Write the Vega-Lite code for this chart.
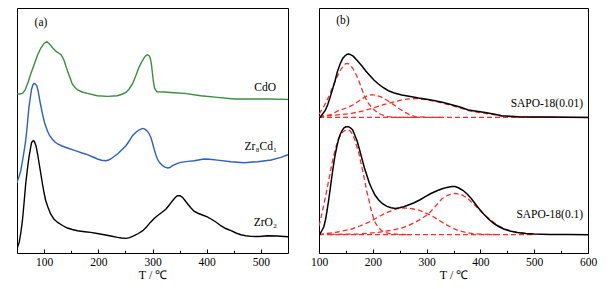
{
  "$schema": "https://vega.github.io/schema/vega-lite/v6.json",
  "padding": {"left": 16, "top": 7, "right": 0, "bottom": 0},
  "background": "white",
  "spacing": 31,
  "bounds": "flush",
  "config": {
    "view": {"stroke": "black", "strokeWidth": 1},
    "font": "Liberation Serif",
    "axis": {
      "labelFont": "Liberation Serif", "labelFontSize": 11.5, "labelColor": "black",
      "titleFont": "Liberation Serif", "titleFontSize": 12, "titleFontWeight": "normal", "titleColor": "black",
      "tickColor": "black", "tickWidth": 1, "domain": false, "grid": false,
      "tickSize": -4, "labelPadding": 7, "titlePadding": 2, "labelFlush": false
    }
  },
  "datasets": {
    "a_curves": [
      {"s":"CdO","T":50,"v":159},{"s":"CdO","T":55,"v":159},{"s":"CdO","T":60,"v":159.6},{"s":"CdO","T":65,"v":163},{"s":"CdO","T":70,"v":170},{"s":"CdO","T":76,"v":180},{"s":"CdO","T":82,"v":189},{"s":"CdO","T":88,"v":198},{"s":"CdO","T":94,"v":205},{"s":"CdO","T":100,"v":209.6},{"s":"CdO","T":105,"v":211.3},{"s":"CdO","T":110,"v":209},{"s":"CdO","T":116,"v":205},{"s":"CdO","T":122,"v":201.6},{"s":"CdO","T":128,"v":199.5},{"s":"CdO","T":131,"v":198.3},{"s":"CdO","T":134,"v":196},{"s":"CdO","T":137,"v":192.3},{"s":"CdO","T":143,"v":182.3},{"s":"CdO","T":148,"v":175},{"s":"CdO","T":152,"v":169},{"s":"CdO","T":157,"v":165.5},{"s":"CdO","T":162,"v":163},{"s":"CdO","T":170,"v":161},{"s":"CdO","T":180,"v":159.6},{"s":"CdO","T":198,"v":157.3},{"s":"CdO","T":217,"v":156.6},{"s":"CdO","T":235,"v":157.3},{"s":"CdO","T":245,"v":159},{"s":"CdO","T":251,"v":160.6},{"s":"CdO","T":257,"v":164},{"s":"CdO","T":263,"v":169},{"s":"CdO","T":269,"v":177},{"s":"CdO","T":275,"v":185.6},{"s":"CdO","T":280,"v":191},{"s":"CdO","T":285,"v":195.6},{"s":"CdO","T":288,"v":197.5},{"s":"CdO","T":291,"v":198.3},{"s":"CdO","T":294,"v":197},{"s":"CdO","T":296,"v":194.5},{"s":"CdO","T":298,"v":189},{"s":"CdO","T":300,"v":179},{"s":"CdO","T":302,"v":170},{"s":"CdO","T":304,"v":164.5},{"s":"CdO","T":308,"v":161.3},{"s":"CdO","T":322,"v":161},{"s":"CdO","T":340,"v":160.3},{"s":"CdO","T":359,"v":159.6},{"s":"CdO","T":389,"v":157.3},{"s":"CdO","T":420,"v":155.6},{"s":"CdO","T":451,"v":154},{"s":"CdO","T":482,"v":154},{"s":"CdO","T":512,"v":154},{"s":"CdO","T":550,"v":153.6},
      {"s":"Zr8Cd1","T":50,"v":70},{"s":"Zr8Cd1","T":51,"v":72.3},{"s":"Zr8Cd1","T":54,"v":77},{"s":"Zr8Cd1","T":57,"v":82.3},{"s":"Zr8Cd1","T":62,"v":98},{"s":"Zr8Cd1","T":66,"v":112.3},{"s":"Zr8Cd1","T":69,"v":128},{"s":"Zr8Cd1","T":72,"v":145.6},{"s":"Zr8Cd1","T":75,"v":157},{"s":"Zr8Cd1","T":77,"v":164},{"s":"Zr8Cd1","T":79.5,"v":168.5},{"s":"Zr8Cd1","T":81.5,"v":169.6},{"s":"Zr8Cd1","T":84,"v":169},{"s":"Zr8Cd1","T":86.5,"v":167.3},{"s":"Zr8Cd1","T":89,"v":162},{"s":"Zr8Cd1","T":91,"v":155.6},{"s":"Zr8Cd1","T":94,"v":147},{"s":"Zr8Cd1","T":97,"v":139},{"s":"Zr8Cd1","T":101,"v":130},{"s":"Zr8Cd1","T":106,"v":122.3},{"s":"Zr8Cd1","T":110,"v":117.5},{"s":"Zr8Cd1","T":115,"v":114},{"s":"Zr8Cd1","T":120,"v":111},{"s":"Zr8Cd1","T":125,"v":109},{"s":"Zr8Cd1","T":133,"v":107},{"s":"Zr8Cd1","T":143,"v":105},{"s":"Zr8Cd1","T":152,"v":103.3},{"s":"Zr8Cd1","T":161.5,"v":101.6},{"s":"Zr8Cd1","T":170,"v":100},{"s":"Zr8Cd1","T":180,"v":98.3},{"s":"Zr8Cd1","T":190,"v":96},{"s":"Zr8Cd1","T":198.5,"v":94},{"s":"Zr8Cd1","T":206,"v":92.8},{"s":"Zr8Cd1","T":214,"v":92.3},{"s":"Zr8Cd1","T":219,"v":93},{"s":"Zr8Cd1","T":223,"v":94},{"s":"Zr8Cd1","T":229,"v":96.5},{"s":"Zr8Cd1","T":235.5,"v":99},{"s":"Zr8Cd1","T":243,"v":103},{"s":"Zr8Cd1","T":251,"v":107.3},{"s":"Zr8Cd1","T":257,"v":112},{"s":"Zr8Cd1","T":263,"v":117.3},{"s":"Zr8Cd1","T":270,"v":121},{"s":"Zr8Cd1","T":275,"v":123},{"s":"Zr8Cd1","T":281.5,"v":124.6},{"s":"Zr8Cd1","T":286,"v":123.8},{"s":"Zr8Cd1","T":291,"v":121.6},{"s":"Zr8Cd1","T":294,"v":119},{"s":"Zr8Cd1","T":297,"v":115.6},{"s":"Zr8Cd1","T":300,"v":110},{"s":"Zr8Cd1","T":303,"v":104},{"s":"Zr8Cd1","T":306,"v":98.5},{"s":"Zr8Cd1","T":309,"v":94},{"s":"Zr8Cd1","T":313,"v":90.5},{"s":"Zr8Cd1","T":318.6,"v":87.3},{"s":"Zr8Cd1","T":323,"v":85.8},{"s":"Zr8Cd1","T":328,"v":85},{"s":"Zr8Cd1","T":332,"v":85.5},{"s":"Zr8Cd1","T":337,"v":87.3},{"s":"Zr8Cd1","T":345,"v":89.3},{"s":"Zr8Cd1","T":352,"v":90.6},{"s":"Zr8Cd1","T":365,"v":91.6},{"s":"Zr8Cd1","T":377,"v":92.3},{"s":"Zr8Cd1","T":395,"v":94},{"s":"Zr8Cd1","T":405,"v":93.8},{"s":"Zr8Cd1","T":420,"v":92.9},{"s":"Zr8Cd1","T":444.7,"v":91.3},{"s":"Zr8Cd1","T":469,"v":90.3},{"s":"Zr8Cd1","T":494,"v":91.3},{"s":"Zr8Cd1","T":519,"v":93},{"s":"Zr8Cd1","T":537,"v":95.6},{"s":"Zr8Cd1","T":550,"v":98.3},
      {"s":"ZrO2","T":50,"v":4},{"s":"ZrO2","T":51,"v":5.6},{"s":"ZrO2","T":54,"v":10.6},{"s":"ZrO2","T":57,"v":20},{"s":"ZrO2","T":60,"v":32.3},{"s":"ZrO2","T":63,"v":50},{"s":"ZrO2","T":66,"v":69},{"s":"ZrO2","T":69,"v":83},{"s":"ZrO2","T":72,"v":95.6},{"s":"ZrO2","T":75,"v":105},{"s":"ZrO2","T":77,"v":110.6},{"s":"ZrO2","T":80,"v":112.3},{"s":"ZrO2","T":82,"v":111.5},{"s":"ZrO2","T":85,"v":107.3},{"s":"ZrO2","T":88,"v":99},{"s":"ZrO2","T":91,"v":89},{"s":"ZrO2","T":94,"v":79},{"s":"ZrO2","T":97,"v":69},{"s":"ZrO2","T":100,"v":60},{"s":"ZrO2","T":103,"v":52.3},{"s":"ZrO2","T":107,"v":46},{"s":"ZrO2","T":112,"v":39},{"s":"ZrO2","T":118,"v":34},{"s":"ZrO2","T":125,"v":30.6},{"s":"ZrO2","T":134,"v":27.5},{"s":"ZrO2","T":143,"v":25},{"s":"ZrO2","T":152,"v":23.5},{"s":"ZrO2","T":161.5,"v":22.3},{"s":"ZrO2","T":175,"v":21.3},{"s":"ZrO2","T":186,"v":20.6},{"s":"ZrO2","T":198,"v":19.5},{"s":"ZrO2","T":211,"v":18.3},{"s":"ZrO2","T":223,"v":17},{"s":"ZrO2","T":235.5,"v":15.6},{"s":"ZrO2","T":243,"v":15},{"s":"ZrO2","T":251,"v":14.6},{"s":"ZrO2","T":258,"v":15.3},{"s":"ZrO2","T":266,"v":17.3},{"s":"ZrO2","T":274,"v":19.5},{"s":"ZrO2","T":282,"v":22.3},{"s":"ZrO2","T":289,"v":26},{"s":"ZrO2","T":296,"v":30.6},{"s":"ZrO2","T":303,"v":34.5},{"s":"ZrO2","T":309,"v":37.3},{"s":"ZrO2","T":317,"v":40.5},{"s":"ZrO2","T":325,"v":44},{"s":"ZrO2","T":331,"v":48},{"s":"ZrO2","T":337,"v":52.3},{"s":"ZrO2","T":342,"v":55.5},{"s":"ZrO2","T":346,"v":57.3},{"s":"ZrO2","T":351,"v":57.3},{"s":"ZrO2","T":355.5,"v":55.6},{"s":"ZrO2","T":360,"v":52.5},{"s":"ZrO2","T":365,"v":49},{"s":"ZrO2","T":371,"v":45},{"s":"ZrO2","T":377,"v":41.6},{"s":"ZrO2","T":385,"v":39.5},{"s":"ZrO2","T":392,"v":38},{"s":"ZrO2","T":400,"v":36.3},{"s":"ZrO2","T":408,"v":34},{"s":"ZrO2","T":417,"v":31},{"s":"ZrO2","T":426,"v":27.3},{"s":"ZrO2","T":435,"v":24.5},{"s":"ZrO2","T":445,"v":22.3},{"s":"ZrO2","T":454,"v":20},{"s":"ZrO2","T":463,"v":18.3},{"s":"ZrO2","T":472,"v":17.3},{"s":"ZrO2","T":482,"v":16.6},{"s":"ZrO2","T":497,"v":16.5},{"s":"ZrO2","T":512,"v":17.3},{"s":"ZrO2","T":530,"v":17},{"s":"ZrO2","T":550,"v":16.3}
    ],
    "a_labels": [
      {"label":"CdO","T":528,"v":165},
      {"label":"Zr₈Cd₁","T":529.5,"v":105.6},
      {"label":"ZrO₂","T":529.5,"v":29.6},
      {"label":"(a)","T":106,"v":229.6}
    ],
    "b_total": [
      {"s":"0.01","T":100,"v":135},{"s":"0.01","T":102,"v":135.6},{"s":"0.01","T":106,"v":138.5},{"s":"0.01","T":111.3,"v":142.3},{"s":"0.01","T":116,"v":148},{"s":"0.01","T":120.6,"v":155.6},{"s":"0.01","T":125,"v":163.5},{"s":"0.01","T":129.9,"v":172.3},{"s":"0.01","T":134,"v":181},{"s":"0.01","T":139.2,"v":189},{"s":"0.01","T":144,"v":194.5},{"s":"0.01","T":148.5,"v":197.3},{"s":"0.01","T":152,"v":198.6},{"s":"0.01","T":154.6,"v":199},{"s":"0.01","T":158,"v":198.6},{"s":"0.01","T":164,"v":196.6},{"s":"0.01","T":171,"v":192.5},{"s":"0.01","T":179.4,"v":187.3},{"s":"0.01","T":187,"v":182},{"s":"0.01","T":194.9,"v":177.3},{"s":"0.01","T":202,"v":173},{"s":"0.01","T":210.4,"v":169},{"s":"0.01","T":219,"v":165.5},{"s":"0.01","T":229,"v":162.3},{"s":"0.01","T":240,"v":160},{"s":"0.01","T":253.8,"v":158},{"s":"0.01","T":270,"v":156.6},{"s":"0.01","T":284.8,"v":155},{"s":"0.01","T":300,"v":153.8},{"s":"0.01","T":315.8,"v":152.3},{"s":"0.01","T":331,"v":150.5},{"s":"0.01","T":346.7,"v":148.3},{"s":"0.01","T":362,"v":146},{"s":"0.01","T":377.7,"v":143},{"s":"0.01","T":393,"v":141.8},{"s":"0.01","T":408.7,"v":140.6},{"s":"0.01","T":424,"v":139},{"s":"0.01","T":439.7,"v":137.3},{"s":"0.01","T":455,"v":136.8},{"s":"0.01","T":470.6,"v":136.3},{"s":"0.01","T":500,"v":136},{"s":"0.01","T":530,"v":136},{"s":"0.01","T":560,"v":135.8},{"s":"0.01","T":600,"v":135.6},
      {"s":"0.1","T":100,"v":17.5},{"s":"0.1","T":104,"v":21},{"s":"0.1","T":108.8,"v":26},{"s":"0.1","T":112,"v":33},{"s":"0.1","T":115,"v":42.3},{"s":"0.1","T":118,"v":53},{"s":"0.1","T":121.2,"v":65.6},{"s":"0.1","T":124,"v":77},{"s":"0.1","T":127.3,"v":89},{"s":"0.1","T":130,"v":98},{"s":"0.1","T":133.5,"v":107.3},{"s":"0.1","T":136.5,"v":114},{"s":"0.1","T":139.7,"v":119},{"s":"0.1","T":143,"v":122.5},{"s":"0.1","T":146,"v":125},{"s":"0.1","T":150,"v":126.2},{"s":"0.1","T":155,"v":126.3},{"s":"0.1","T":159,"v":125},{"s":"0.1","T":162.6,"v":123},{"s":"0.1","T":166,"v":118.5},{"s":"0.1","T":170.7,"v":112.3},{"s":"0.1","T":175,"v":104},{"s":"0.1","T":180,"v":94},{"s":"0.1","T":184.5,"v":85},{"s":"0.1","T":189.2,"v":77.3},{"s":"0.1","T":193.5,"v":70},{"s":"0.1","T":198.5,"v":64},{"s":"0.1","T":204,"v":58},{"s":"0.1","T":210.9,"v":53},{"s":"0.1","T":218,"v":49.3},{"s":"0.1","T":226.4,"v":46.6},{"s":"0.1","T":234,"v":45.2},{"s":"0.1","T":242,"v":44.6},{"s":"0.1","T":250,"v":45.2},{"s":"0.1","T":257.4,"v":46.3},{"s":"0.1","T":266,"v":48},{"s":"0.1","T":276,"v":50},{"s":"0.1","T":287,"v":53},{"s":"0.1","T":297.7,"v":56.3},{"s":"0.1","T":308,"v":59.5},{"s":"0.1","T":319.3,"v":62.3},{"s":"0.1","T":329,"v":64.3},{"s":"0.1","T":338,"v":65.6},{"s":"0.1","T":346.7,"v":66.6},{"s":"0.1","T":353,"v":66.4},{"s":"0.1","T":360,"v":65},{"s":"0.1","T":368,"v":62.5},{"s":"0.1","T":375.3,"v":59},{"s":"0.1","T":383,"v":54.5},{"s":"0.1","T":390.7,"v":49},{"s":"0.1","T":398,"v":44},{"s":"0.1","T":406,"v":39},{"s":"0.1","T":415,"v":34},{"s":"0.1","T":424.7,"v":29.6},{"s":"0.1","T":434,"v":26.5},{"s":"0.1","T":443.3,"v":24},{"s":"0.1","T":455,"v":22},{"s":"0.1","T":468,"v":20.6},{"s":"0.1","T":484,"v":19.6},{"s":"0.1","T":499,"v":19},{"s":"0.1","T":530,"v":18.6},{"s":"0.1","T":565,"v":18.4},{"s":"0.1","T":600,"v":18.3}
    ],
    "b_fit": [
      {"s":"u1","T":100,"v":139},{"s":"u1","T":102,"v":140.6},{"s":"u1","T":110,"v":147.5},{"s":"u1","T":117.5,"v":155.6},{"s":"u1","T":125,"v":165.5},{"s":"u1","T":133,"v":175.6},{"s":"u1","T":140,"v":183},{"s":"u1","T":145.4,"v":187.3},{"s":"u1","T":150,"v":189.3},{"s":"u1","T":153.4,"v":189.6},{"s":"u1","T":158,"v":188},{"s":"u1","T":163,"v":184.5},{"s":"u1","T":167,"v":180.6},{"s":"u1","T":172,"v":175},{"s":"u1","T":176.3,"v":169},{"s":"u1","T":181,"v":162},{"s":"u1","T":185.6,"v":155.6},{"s":"u1","T":192,"v":149.6},{"s":"u1","T":198,"v":145.6},{"s":"u1","T":205,"v":142},{"s":"u1","T":213.5,"v":139},{"s":"u1","T":221,"v":137.3},{"s":"u1","T":229,"v":136.3},{"s":"u1","T":245,"v":135.7},{"s":"u1","T":280,"v":135.6},
      {"s":"u2","T":100,"v":136.2},{"s":"u2","T":120,"v":138},{"s":"u2","T":136,"v":142.3},{"s":"u2","T":150,"v":145},{"s":"u2","T":160.8,"v":147.3},{"s":"u2","T":170,"v":150.5},{"s":"u2","T":179.4,"v":154},{"s":"u2","T":190,"v":157.3},{"s":"u2","T":198,"v":158.3},{"s":"u2","T":206,"v":157.8},{"s":"u2","T":214,"v":156.3},{"s":"u2","T":222.8,"v":154},{"s":"u2","T":232,"v":150.8},{"s":"u2","T":241.4,"v":147.3},{"s":"u2","T":250,"v":144},{"s":"u2","T":260,"v":140.6},{"s":"u2","T":270,"v":138},{"s":"u2","T":278.6,"v":136.3},{"s":"u2","T":300,"v":135.7},{"s":"u2","T":330,"v":135.6},
      {"s":"u3","T":100,"v":136.3},{"s":"u3","T":130,"v":137.8},{"s":"u3","T":160.8,"v":139.6},{"s":"u3","T":185,"v":142.5},{"s":"u3","T":204.2,"v":145.6},{"s":"u3","T":220,"v":148.3},{"s":"u3","T":235.2,"v":150.6},{"s":"u3","T":250,"v":152.6},{"s":"u3","T":266,"v":154.2},{"s":"u3","T":285,"v":154.3},{"s":"u3","T":300,"v":153.2},{"s":"u3","T":316,"v":151.7},{"s":"u3","T":331,"v":149.8},{"s":"u3","T":347,"v":147.5},{"s":"u3","T":362,"v":145},{"s":"u3","T":378,"v":142.5},{"s":"u3","T":393,"v":140.8},{"s":"u3","T":409,"v":139.7},{"s":"u3","T":424,"v":138.5},{"s":"u3","T":440,"v":137},{"s":"u3","T":455,"v":136.3},{"s":"u3","T":470,"v":136},{"s":"u3","T":500,"v":135.7},{"s":"u3","T":550,"v":135.6},{"s":"u3","T":600,"v":135.6},
      {"s":"ub","T":100,"v":135.6},{"s":"ub","T":600,"v":135.6},
      {"s":"l1","T":100,"v":27},{"s":"l1","T":104,"v":36},{"s":"l1","T":108,"v":46},{"s":"l1","T":112,"v":56},{"s":"l1","T":116,"v":67},{"s":"l1","T":120,"v":78},{"s":"l1","T":124,"v":89},{"s":"l1","T":128,"v":99},{"s":"l1","T":132,"v":107},{"s":"l1","T":136,"v":113.5},{"s":"l1","T":140,"v":118},{"s":"l1","T":144,"v":121},{"s":"l1","T":148,"v":122.5},{"s":"l1","T":152,"v":123},{"s":"l1","T":155,"v":123},{"s":"l1","T":158,"v":122},{"s":"l1","T":162,"v":119},{"s":"l1","T":166,"v":114},{"s":"l1","T":170,"v":107},{"s":"l1","T":174,"v":100},{"s":"l1","T":178,"v":90},{"s":"l1","T":182,"v":80},{"s":"l1","T":186.2,"v":69},{"s":"l1","T":189,"v":61},{"s":"l1","T":191.8,"v":55.6},{"s":"l1","T":196,"v":45},{"s":"l1","T":201,"v":35.6},{"s":"l1","T":205,"v":30},{"s":"l1","T":210.5,"v":25.6},{"s":"l1","T":216,"v":22.5},{"s":"l1","T":222.8,"v":20.6},{"s":"l1","T":232,"v":19.3},{"s":"l1","T":247.6,"v":18.6},{"s":"l1","T":270,"v":18.3},
      {"s":"l2","T":100,"v":18.5},{"s":"l2","T":130,"v":20.5},{"s":"l2","T":160.8,"v":24},{"s":"l2","T":176,"v":27},{"s":"l2","T":191.8,"v":30.6},{"s":"l2","T":207,"v":35},{"s":"l2","T":222.8,"v":39.6},{"s":"l2","T":235,"v":42.5},{"s":"l2","T":246,"v":44.3},{"s":"l2","T":257,"v":45},{"s":"l2","T":268,"v":44.8},{"s":"l2","T":276,"v":44},{"s":"l2","T":284.8,"v":43},{"s":"l2","T":297,"v":40.3},{"s":"l2","T":309.6,"v":37.3},{"s":"l2","T":322,"v":33},{"s":"l2","T":334.3,"v":29},{"s":"l2","T":347,"v":25.3},{"s":"l2","T":359.1,"v":22.3},{"s":"l2","T":371,"v":20.8},{"s":"l2","T":383.9,"v":19.6},{"s":"l2","T":400,"v":18.8},{"s":"l2","T":430,"v":18.4},
      {"s":"l3","T":120,"v":18.5},{"s":"l3","T":150,"v":18.8},{"s":"l3","T":173.2,"v":19},{"s":"l3","T":192,"v":19.8},{"s":"l3","T":210.5,"v":20.6},{"s":"l3","T":232,"v":22.5},{"s":"l3","T":253.8,"v":25},{"s":"l3","T":266,"v":27.5},{"s":"l3","T":278.6,"v":30.6},{"s":"l3","T":291,"v":34.5},{"s":"l3","T":303.4,"v":39},{"s":"l3","T":316,"v":46.5},{"s":"l3","T":328.1,"v":54},{"s":"l3","T":340,"v":58},{"s":"l3","T":353,"v":59.6},{"s":"l3","T":365,"v":58.3},{"s":"l3","T":377.7,"v":54},{"s":"l3","T":387,"v":49},{"s":"l3","T":396.3,"v":44},{"s":"l3","T":408,"v":38},{"s":"l3","T":421,"v":32.3},{"s":"l3","T":433,"v":27.5},{"s":"l3","T":445.8,"v":24},{"s":"l3","T":458,"v":22},{"s":"l3","T":470.6,"v":20.6},{"s":"l3","T":485,"v":19.6},{"s":"l3","T":500,"v":19},
      {"s":"lb","T":100,"v":18.3},{"s":"lb","T":500,"v":18.3}
    ],
    "b_labels": [
      {"label":"SAPO-18(0.01)","T":591,"v":149},
      {"label":"SAPO-18(0.1)","T":591,"v":38},
      {"label":"(b)","T":157,"v":231.6}
    ]
  },
  "hconcat": [
    {
      "width": 271,
      "height": 245,
      "layer": [
        {
          "data": {"name": "a_curves"},
          "mark": {"type": "line", "strokeWidth": 1.4, "clip": true},
          "encoding": {
            "x": {"field": "T", "type": "quantitative",
                  "scale": {"domain": [50, 550], "nice": false, "zero": false},
                  "axis": {"orient": "bottom", "values": [100, 200, 300, 400, 500], "title": "T / ℃"}},
            "y": {"field": "v", "type": "quantitative",
                  "scale": {"domain": [0, 245], "nice": false, "zero": false}, "axis": null},
            "color": {"field": "s", "type": "nominal",
                      "scale": {"domain": ["CdO", "Zr8Cd1", "ZrO2"], "range": ["#3b8e3f", "#2b5fc8", "#000000"]},
                      "legend": null}
          }
        },
        {
          "data": {"name": "a_labels"},
          "mark": {"type": "text", "align": "right", "baseline": "middle", "font": "Liberation Serif", "fontSize": 11.5, "color": "black"},
          "encoding": {
            "x": {"field": "T", "type": "quantitative",
                  "axis": {"orient": "bottom", "values": [150, 250, 350, 450], "labels": false, "title": null, "tickSize": -2.7}},
            "y": {"field": "v", "type": "quantitative"},
            "text": {"field": "label"}
          }
        }
      ],
      "resolve": {"axis": {"x": "independent"}}
    },
    {
      "width": 269,
      "height": 245,
      "layer": [
        {
          "data": {"name": "b_fit"},
          "mark": {"type": "line", "strokeWidth": 1.3, "strokeDash": [5, 3], "color": "#ff2b2b", "clip": true},
          "encoding": {
            "x": {"field": "T", "type": "quantitative",
                  "scale": {"domain": [100, 600], "nice": false, "zero": false},
                  "axis": {"orient": "bottom", "values": [100, 200, 300, 400, 500, 600], "title": "T / ℃"}},
            "y": {"field": "v", "type": "quantitative",
                  "scale": {"domain": [0, 245], "nice": false, "zero": false}, "axis": null},
            "detail": {"field": "s", "type": "nominal"}
          }
        },
        {
          "data": {"name": "b_total"},
          "mark": {"type": "line", "strokeWidth": 1.5, "color": "black", "clip": true},
          "encoding": {
            "x": {"field": "T", "type": "quantitative",
                  "axis": {"orient": "bottom", "values": [150, 250, 350, 450, 550], "labels": false, "title": null, "tickSize": -2.7}},
            "y": {"field": "v", "type": "quantitative"},
            "detail": {"field": "s", "type": "nominal"}
          }
        },
        {
          "data": {"name": "b_labels"},
          "mark": {"type": "text", "align": "right", "baseline": "middle", "font": "Liberation Serif", "fontSize": 11.5, "color": "black"},
          "encoding": {
            "x": {"field": "T", "type": "quantitative", "axis": null},
            "y": {"field": "v", "type": "quantitative"},
            "text": {"field": "label"}
          }
        }
      ],
      "resolve": {"axis": {"x": "independent"}}
    }
  ]
}
